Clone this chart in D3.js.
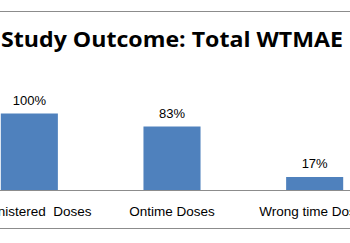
<!DOCTYPE html>
<html>
<head>
<meta charset="utf-8">
<script src="https://cdn.jsdelivr.net/npm/d3@7"></script>
<style>
  body { margin: 0; background: #fff; }
  svg { display: block; }
</style>
</head>
<body>
<div id="chart"></div>
<script>
// chart data
const categories = ['Administered  Doses', 'Ontime Doses', 'Wrong time Doses']
const values = [1.00, 0.83, 0.17]
const title = 'Study Outcome: Total WTMAE'

const drawBarChart = () => {
  const dims = { width: 350, height: 243 }
  const axisY = 190

  const svg = d3
    .select('#chart')
    .append('svg')
    .attr('width', dims.width)
    .attr('height', dims.height)

  // band scale runs past both edges: the picture is a crop of a wider chart
  const xScale = d3
    .scaleBand()
    .domain(categories)
    .range([-42, 386])
    .paddingInner(0.6)
    .paddingOuter(0.3)

  const yScale = d3.scaleLinear().domain([0, 1]).range([axisY, 113.5])

  // gray rules above and below the chart
  svg.append('line')
    .attr('x1', 0).attr('x2', dims.width)
    .attr('y1', 11.5).attr('y2', 11.5)
    .attr('stroke', '#8c8c8c')
  svg.append('line')
    .attr('x1', 0).attr('x2', dims.width)
    .attr('y1', 228.5).attr('y2', 228.5)
    .attr('stroke', '#8c8c8c')

  // title
  svg.append('text')
    .attr('x', 1)
    .attr('y', 47)
    .attr('font-family', "'Open Sans', 'Liberation Sans', sans-serif")
    .attr('font-weight', 'bold')
    .attr('font-size', '22px')
    .attr('textLength', 342)
    .attr('lengthAdjust', 'spacingAndGlyphs')
    .attr('fill', '#000')
    .text(title)

  // bars
  svg.selectAll('rect.bar')
    .data(categories)
    .join('rect')
    .attr('class', 'bar')
    .attr('x', (d) => xScale(d))
    .attr('width', xScale.bandwidth())
    .attr('y', (d, i) => yScale(values[i]))
    .attr('height', (d, i) => axisY - yScale(values[i]))
    .attr('fill', '#4f81bd')

  // value labels
  svg.selectAll('text.value')
    .data(categories)
    .join('text')
    .attr('class', 'value')
    .attr('x', (d) => xScale(d) + xScale.bandwidth() / 2)
    .attr('y', (d, i) => yScale(values[i]) - 9)
    .attr('text-anchor', 'middle')
    .attr('font-family', "'Liberation Sans', Arial, sans-serif")
    .attr('font-size', '13px')
    .attr('fill', '#000')
    .text((d, i) => d3.format('.0%')(values[i]))

  // x axis
  const xAxis = d3.axisBottom(xScale).tickSize(0).tickPadding(16)
  const xAxisGroup = svg.append('g')
    .attr('transform', `translate(0, ${axisY})`)
    .call(xAxis)

  xAxisGroup.select('.domain').remove()
  xAxisGroup.append('line')
    .attr('x1', 0).attr('x2', dims.width)
    .attr('y1', 0.5).attr('y2', 0.5)
    .attr('stroke', '#8c8c8c')

  xAxisGroup.selectAll('.tick text')
    .attr('font-family', "'Liberation Sans', Arial, sans-serif")
    .attr('font-size', '13.5px')
    .attr('fill', '#000')
    .style('white-space', 'pre')
}

drawBarChart()
</script>
</body>
</html>
